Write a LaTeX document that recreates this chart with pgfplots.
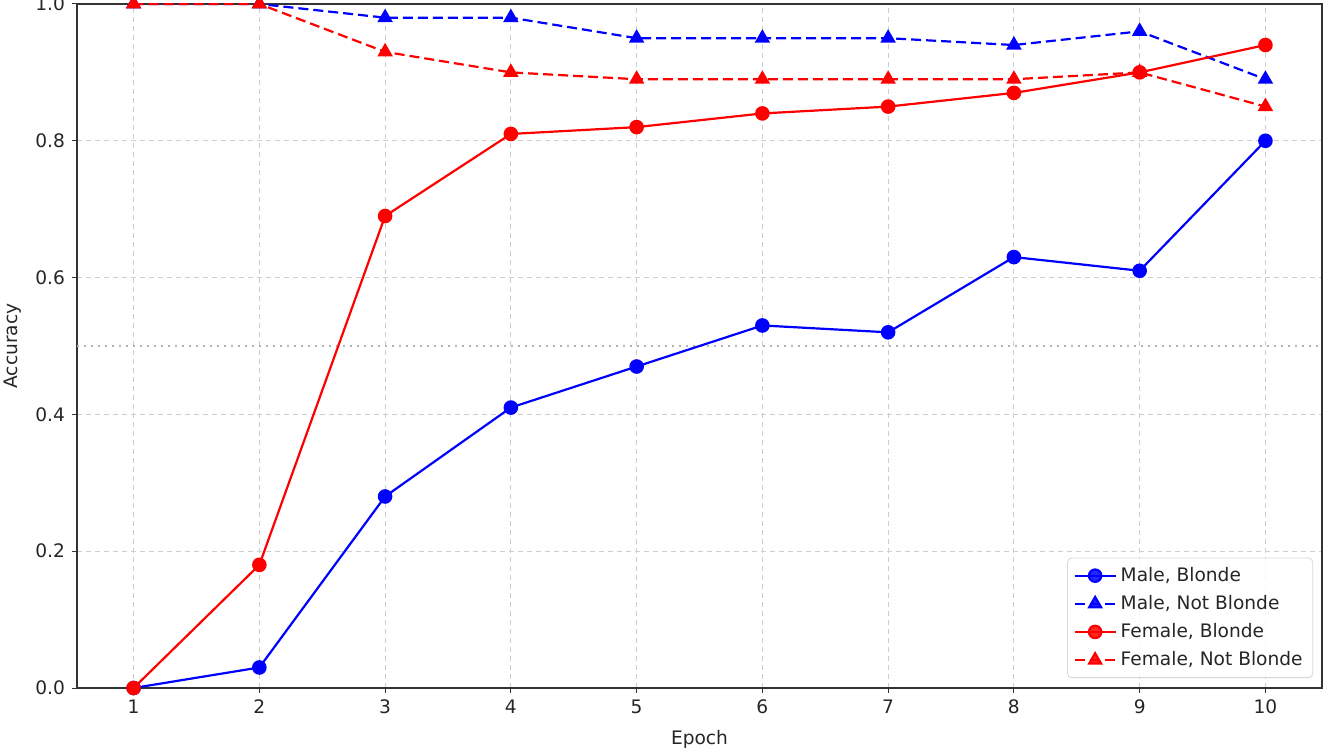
\documentclass[border=0pt]{standalone}
\usepackage{pgfplots}
\pgfplotsset{compat=1.18}
\usepackage{fontspec}
\setmainfont{DejaVu Sans}
\definecolor{gridc}{RGB}{205,205,205}
\definecolor{legc}{RGB}{215,215,215}
\begin{document}
\begin{tikzpicture}
\begin{axis}[
  scale only axis,
  width=622.5pt, height=342pt,
  xmin=0.55, xmax=10.45,
  ymin=0, ymax=1.0,
  xtick={1,2,3,4,5,6,7,8,9,10},
  ytick={0,0.2,0.4,0.6,0.8,1.0},
  yticklabel style={/pgf/number format/fixed,/pgf/number format/fixed zerofill,/pgf/number format/precision=1},
  /pgf/number format/assume math mode=true,
  tick label style={font=\fontsize{9.3}{11}\selectfont, text=black!85},
  label style={font=\fontsize{9.3}{11}\selectfont, text=black!85},
  xlabel={Epoch}, ylabel={Accuracy},
  xlabel style={yshift=-1pt},
  ylabel style={yshift=0pt},
  tick align=outside,
  major tick length=2.5pt,
  tick style={black!80, line width=0.5pt},
  axis line style={black!80, line width=0.6pt},
  xtick pos=bottom, ytick pos=left,
  grid=major,
  major grid style={gridc, dash pattern=on 2.5pt off 2pt, line width=0.5pt},
  legend style={at={(rel axis cs:0.9928,0.0146)}, anchor=south east,
    draw=legc, rounded corners=2pt, fill=white, fill opacity=0.85, text opacity=1,
    font=\fontsize{9.3}{11}\selectfont, text=black!85,
    row sep=1.5pt, inner xsep=3pt, inner ysep=2.5pt},
  legend cell align=left,
  legend image code/.code={
    \draw[mark repeat=2,mark phase=2,#1] plot coordinates {(0cm,0cm) (0.36cm,0cm) (0.72cm,0cm)};
  },
]
\addplot[forget plot, gray!60, line width=0.7pt, dash pattern=on 1pt off 2.5pt] coordinates {(0.55,0.5) (10.45,0.5)};
\addplot[blue, line width=1.1pt, mark=*, mark size=3.1pt, mark options={solid}] coordinates {
(1,0) (2,0.03) (3,0.28) (4,0.41) (5,0.47) (6,0.53) (7,0.52) (8,0.63) (9,0.61) (10,0.80)};
\addlegendentry{Male, Blonde}
\addplot[blue, line width=1.1pt, dash pattern=on 5pt off 2.5pt, mark=triangle*, mark size=3.4pt, mark options={solid}] coordinates {
(1,1.0) (2,1.0) (3,0.98) (4,0.98) (5,0.95) (6,0.95) (7,0.95) (8,0.94) (9,0.96) (10,0.89)};
\addlegendentry{Male, Not Blonde}
\addplot[red, line width=1.1pt, mark=*, mark size=3.1pt, mark options={solid}] coordinates {
(1,0) (2,0.18) (3,0.69) (4,0.81) (5,0.82) (6,0.84) (7,0.85) (8,0.87) (9,0.90) (10,0.94)};
\addlegendentry{Female, Blonde}
\addplot[red, line width=1.1pt, dash pattern=on 5pt off 2.5pt, mark=triangle*, mark size=3.4pt, mark options={solid}] coordinates {
(1,1.0) (2,1.0) (3,0.93) (4,0.90) (5,0.89) (6,0.89) (7,0.89) (8,0.89) (9,0.90) (10,0.85)};
\addlegendentry{Female, Not Blonde}
\end{axis}
\pgfresetboundingbox
\path ([xshift=-38.5pt,yshift=-30.5pt]current axis.south west) rectangle ([xshift=3.5pt,yshift=2pt]current axis.north east);
\end{tikzpicture}
\end{document}
